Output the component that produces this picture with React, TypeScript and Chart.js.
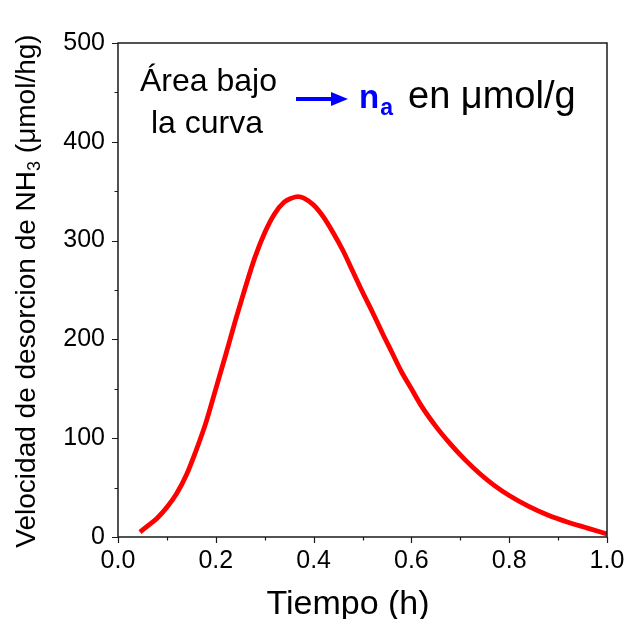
import React, { useEffect, useRef } from 'react';
import { Chart, registerables } from 'chart.js';

Chart.register(...registerables);

// Data
const timeH = [0.045, 0.06, 0.08, 0.1, 0.12, 0.14, 0.16, 0.18, 0.2, 0.22, 0.24, 0.26, 0.28, 0.3, 0.32, 0.34, 0.355, 0.368, 0.38, 0.4, 0.42, 0.44, 0.46, 0.48, 0.5, 0.52, 0.54, 0.56, 0.58, 0.6, 0.62, 0.65, 0.68, 0.71, 0.74, 0.77, 0.8, 0.84, 0.88, 0.92, 0.96, 1.0];
const rate = [5, 11, 19, 30, 44, 63, 88, 116, 150, 184, 219, 252, 283, 308, 327, 339, 343, 344.5, 343, 336, 324, 308, 290, 269, 248, 228, 207, 187, 167, 150, 133, 112, 94, 78, 64, 52, 42, 31, 22, 15, 9, 3];

const xTickValues = [0, 0.1, 0.2, 0.3, 0.4, 0.5, 0.6, 0.7, 0.8, 0.9, 1.0];
const xTickLabels = ['0.0', '', '0.2', '', '0.4', '', '0.6', '', '0.8', '', '1.0'];
const yTickValues = [0, 50, 100, 150, 200, 250, 300, 350, 400, 450, 500];
const yTickLabels = ['0', '', '100', '', '200', '', '300', '', '400', '', '500'];

const FONT = '"Liberation Sans", Arial, Helvetica, sans-serif';

const decorPlugin = {
  id: 'decor',
  afterDraw(chart: any) {
    const ctx = chart.ctx as CanvasRenderingContext2D;
    const { left, right, top, bottom } = chart.chartArea;
    const xs = chart.scales.x;
    const ys = chart.scales.y;
    ctx.save();
    // frame
    ctx.strokeStyle = '#1a1a1a';
    ctx.lineWidth = 1.5;
    ctx.strokeRect(left, top, right - left, bottom - top);
    // ticks
    ctx.lineWidth = 1.2;
    ctx.beginPath();
    xTickValues.forEach((v, i) => {
      const px = Math.round(xs.getPixelForValue(v)) + 0.5;
      const len = xTickLabels[i] ? 6 : 3.5;
      ctx.moveTo(px, bottom);
      ctx.lineTo(px, bottom + len);
    });
    yTickValues.forEach((v, i) => {
      const py = Math.round(ys.getPixelForValue(v)) + 0.5;
      const len = yTickLabels[i] ? 6 : 3.5;
      ctx.moveTo(left, py);
      ctx.lineTo(left - len, py);
    });
    ctx.stroke();

    // x title
    ctx.fillStyle = '#000';
    ctx.font = `34px ${FONT}`;
    ctx.textAlign = 'center';
    ctx.textBaseline = 'alphabetic';
    ctx.fillText('Tiempo (h)', 348, 614);

    // y title (rotated, with subscript)
    const segs: Array<{ t: string; size: number; dy: number }> = [
      { t: 'Velocidad de desorcion de NH', size: 28, dy: 0 },
      { t: '3', size: 18, dy: 5 },
      { t: ' (\u03bcmol/hg)', size: 28, dy: 0 },
    ];
    let total = 0;
    segs.forEach((s) => {
      ctx.font = `${s.size}px ${FONT}`;
      total += ctx.measureText(s.t).width;
    });
    ctx.translate(35, 291);
    ctx.rotate(-Math.PI / 2);
    ctx.textAlign = 'left';
    let cx = -total / 2;
    segs.forEach((s) => {
      ctx.font = `${s.size}px ${FONT}`;
      ctx.fillText(s.t, cx, s.dy);
      cx += ctx.measureText(s.t).width;
    });
    ctx.setTransform(1, 0, 0, 1, 0, 0);

    // annotation
    ctx.fillStyle = '#000';
    ctx.font = `32px ${FONT}`;
    ctx.textAlign = 'left';
    ctx.fillText('\u00c1rea bajo', 140, 91);
    ctx.fillText('la curva', 151, 133);

    // arrow
    ctx.strokeStyle = '#0000ff';
    ctx.fillStyle = '#0000ff';
    ctx.lineWidth = 4;
    ctx.beginPath();
    ctx.moveTo(296, 99);
    ctx.lineTo(334, 99);
    ctx.stroke();
    ctx.beginPath();
    ctx.moveTo(348, 99);
    ctx.lineTo(331, 92);
    ctx.lineTo(331, 106);
    ctx.closePath();
    ctx.fill();

    ctx.font = `bold 33px ${FONT}`;
    ctx.fillText('n', 359, 108);
    const nW = ctx.measureText('n').width;
    ctx.font = `bold 23px ${FONT}`;
    ctx.fillText('a', 359 + nW + 1, 115);

    ctx.fillStyle = '#000';
    ctx.font = `38px ${FONT}`;
    ctx.fillText('en \u03bcmol/g', 408, 108);
    ctx.restore();
  },
};

export default function App() {
  const ref = useRef<HTMLCanvasElement | null>(null);
  useEffect(() => {
    if (!ref.current) return;
    const chart = new Chart(ref.current, {
      type: 'line',
      data: {
        datasets: [
          {
            data: timeH.map((x, i) => ({ x, y: rate[i] })),
            borderColor: '#ff0000',
            borderWidth: 4.8,
            pointRadius: 0,
            fill: false,
            cubicInterpolationMode: 'monotone',
            borderCapStyle: 'butt',
            borderJoinStyle: 'round',
          },
        ],
      },
      options: {
        responsive: false,
        animation: false,
        layout: { padding: { top: 43, right: 20, left: 0, bottom: 0 } },
        plugins: { legend: { display: false }, tooltip: { enabled: false } },
        scales: {
          x: {
            type: 'linear',
            min: 0,
            max: 1,
            afterFit: (s: any) => { s.height = 82; s.paddingLeft = 0; s.paddingRight = 0; },
            afterBuildTicks: (s: any) => { s.ticks = xTickValues.map((v) => ({ value: v })); },
            grid: { display: true, drawOnChartArea: false, drawTicks: false },
            border: { display: false },
            ticks: {
              autoSkip: false,
              maxRotation: 0,
              padding: 9,
              color: '#000',
              font: { size: 25, family: FONT },
              callback: (_v: any, i: number) => xTickLabels[i],
            },
          },
          y: {
            type: 'linear',
            min: 0,
            max: 500,
            afterFit: (s: any) => { s.width = 118; s.paddingTop = 0; s.paddingBottom = 0; },
            afterBuildTicks: (s: any) => { s.ticks = yTickValues.map((v) => ({ value: v })); },
            grid: { display: true, drawOnChartArea: false, drawTicks: false },
            border: { display: false },
            ticks: {
              autoSkip: false,
              padding: 13,
              color: '#000',
              font: { size: 25, family: FONT },
              callback: (_v: any, i: number) => yTickLabels[i],
            },
          },
        },
      },
      plugins: [decorPlugin],
    } as any);
    return () => chart.destroy();
  }, []);
  return (
    <div style={{ position: 'absolute', left: 0, top: 0, width: 627, height: 619, background: '#fff' }}>
      <canvas ref={ref} width={627} height={619} />
    </div>
  );
}
